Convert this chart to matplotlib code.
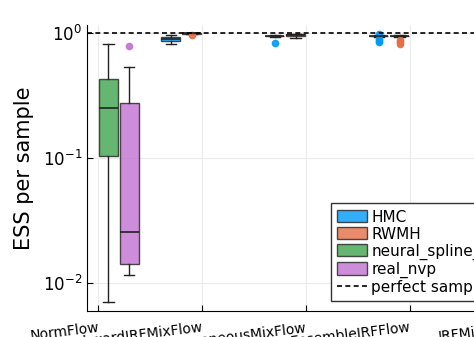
import matplotlib
matplotlib.use("Agg")
import matplotlib.pyplot as plt
from matplotlib.patches import Patch
from matplotlib.lines import Line2D

# categories on the x axis and the four sampler/flow series
categories = ["NormFlow", "BackwardIRFMixFlow", "HomogeneousMixFlow",
              "EnsembleIRFFlow", "IRFMixFlow"]
series = ["HMC", "RWMH", "neural_spline_flow", "real_nvp"]
colors = ["#009AFA", "#E36F47", "#3EA44E", "#C271D2"]

# box statistics: (category, series, lo, q1, med, q3, hi, fliers)
box_cat = [0, 0, 1, 1, 2, 2, 3, 3]
box_ser = [2, 3, 0, 1, 0, 1, 0, 1]
whis_lo = [0.0070, 0.0115, 0.81, 0.985, 0.925, 0.917, 0.935, 0.935]
q1 = [0.104, 0.0143, 0.87, 0.990, 0.940, 0.945, 0.945, 0.945]
med = [0.253, 0.0257, 0.90, 0.993, 0.948, 0.960, 0.950, 0.950]
q3 = [0.43, 0.275, 0.93, 0.996, 0.955, 0.975, 0.955, 0.955]
whis_hi = [0.817, 0.535, 0.958, 0.999, 0.962, 0.985, 0.965, 0.962]
fliers = [[], [0.787], [], [0.96], [0.83], [], [0.84, 0.87, 0.89, 0.98], [0.82, 0.85, 0.88]]

perfect = 1.0

fig = plt.figure(figsize=(4.74, 3.37), dpi=100)
ax = fig.add_axes([0.1835, 0.0772, 0.924, 0.8487])

offsets = [-0.3, -0.1, 0.1, 0.3]
for i in range(len(box_cat)):
    c = box_cat[i]
    s = box_ser[i]
    pos = c + 0.5 + offsets[s]
    stats = [dict(whislo=whis_lo[i], q1=q1[i], med=med[i], q3=q3[i],
                  whishi=whis_hi[i], fliers=fliers[i])]
    ax.bxp(stats, positions=[pos], widths=0.18, patch_artist=True,
           boxprops=dict(facecolor=colors[s], alpha=0.8, edgecolor="#222222", linewidth=1),
           medianprops=dict(color="#222222", linewidth=1.2),
           whiskerprops=dict(color="#222222", linewidth=1),
           capprops=dict(color="#222222", linewidth=1),
           flierprops=dict(marker="o", markerfacecolor=colors[s], markeredgecolor=colors[s],
                           markersize=4.5, alpha=0.9),
           capwidths=0.1, manage_ticks=False)

ax.axhline(perfect, color="black", linestyle=(0, (3, 2)), linewidth=1.2, zorder=5)

ax.set_yscale("log")
ax.set_ylim(0.00597, 1.16)
ax.set_xlim(0.394, 4.606)
ax.set_xticks([i + 0.5 for i in range(len(categories))])
ax.set_xticklabels(categories, rotation=7, ha="right", rotation_mode="anchor")
ax.set_yticks([0.01, 0.1, 1])
ax.minorticks_off()
ax.tick_params(axis="both", direction="in", length=4, labelsize=12)
ax.tick_params(axis="x", pad=7, labelsize=10)
ax.set_ylabel("ESS per sample", fontsize=15, labelpad=6)
ax.grid(True, color="#EBEBEB", linewidth=0.8)
ax.set_axisbelow(True)
ax.spines["top"].set_visible(False)
ax.spines["right"].set_visible(False)

handles = [Patch(facecolor=colors[k], alpha=0.8, edgecolor="#222222") for k in range(4)]
handles.append(Line2D([], [], color="black", linestyle=(0, (3, 2)), linewidth=1.2))
leg = fig.legend(handles, series + ["perfect sampler"], loc="lower left",
                 bbox_to_anchor=(331 / 474, 1 - 301 / 337), fontsize=11,
                 handlelength=1.95, handleheight=0.85, handletextpad=0.28,
                 labelspacing=0.13, borderpad=0.4, borderaxespad=0,
                 fancybox=False, framealpha=1)
leg.get_frame().set_edgecolor("#333333")

fig.savefig("out.png", dpi=100)
